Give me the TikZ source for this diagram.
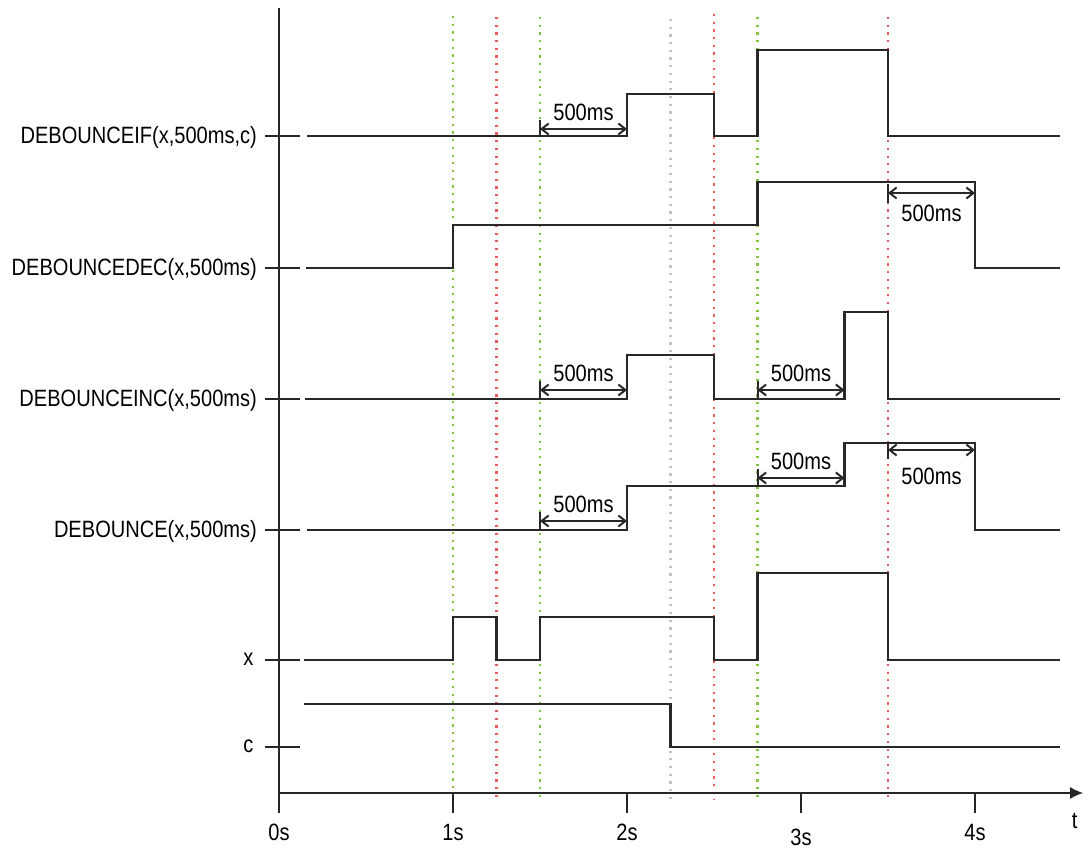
\documentclass[tikz,border=0pt]{standalone}
\usepackage{fontspec}
\setmainfont{Liberation Sans}[FakeStretch=0.85]
\usetikzlibrary{arrows.meta}
\definecolor{dotgreen}{RGB}{130,195,70}
\definecolor{dotred}{RGB}{235,90,90}
\definecolor{dotgray}{RGB}{195,195,195}
\definecolor{sigcol}{RGB}{40,40,40}
\begin{document}
\begin{tikzpicture}[x=174pt,y=-1pt,
  sig/.style={draw=sigcol,line width=2.1pt,line join=miter},
  axisline/.style={draw=black!85,line width=2pt},
  dotline/.style={line width=2.6pt,dash pattern=on 2.2pt off 5.5pt},
  dimarrow/.style={draw=sigcol,line width=2pt,{Straight Barb[length=7pt,width=11pt,line width=2pt]}-{Straight Barb[length=7pt,width=11pt,line width=2pt]}},
  dimbar/.style={draw=sigcol,line width=2pt},
  lbl/.style={font=\fontsize{23.6}{28}\selectfont,inner sep=0pt,text=black}]
\useasboundingbox (-1.603448,0) rectangle (4.632184,848);
% dotted reference lines
\draw[dotline,dotgreen] (1,16) -- (1,800);
\draw[dotline,dotred]   (1.25,17) -- (1.25,800);
\draw[dotline,dotgreen] (1.5,17) -- (1.5,800);
\draw[dotline,dotgray]  (2.25,19) -- (2.25,800);
\draw[dotline,dotred]   (2.5,14) -- (2.5,800);
\draw[dotline,dotgreen] (2.75,17) -- (2.75,800);
\draw[dotline,dotred]   (3.5,17) -- (3.5,800);
% axes
\draw[axisline] (0,8) -- (0,813);
\draw[axisline,-{Latex[length=13pt,width=12pt]}] (0,793) -- (4.622,793);
\foreach \t in {1,2,3,4} \draw[axisline] (\t,793) -- (\t,813);
\node[lbl] (l0) at (0,832) {0s};
\node[lbl] (l1) at (1,832) {1s};
\node[lbl] (l2) at (2,832) {2s};
\node[lbl] (l3) at (3,837) {3s};
\node[lbl] (l4) at (4,832) {4s};
\node[lbl] (lt) at (4.573,821) {t};
% y ticks
\foreach \y in {136,268,399,530,660,747} \draw[axisline] (-0.08,\y) -- (0.121,\y);
% signal names
\node[lbl,anchor=east] (nIF)  at (-0.126,137) {DEBOUNCEIF(x,500ms,c)};
\node[lbl,anchor=east] (nDEC) at (-0.126,269) {DEBOUNCEDEC(x,500ms)};
\node[lbl,anchor=east] (nINC) at (-0.126,400) {DEBOUNCEINC(x,500ms)};
\node[lbl,anchor=east] (nDEB) at (-0.126,531) {DEBOUNCE(x,500ms)};
\node[lbl,anchor=east] (nX)   at (-0.146,659) {x};
\node[lbl,anchor=east] (nC)   at (-0.146,746) {c};
% signals
\draw[sig] (0.16,136) -- (2,136) -- (2,94) -- (2.5,94) -- (2.5,136) -- (2.75,136) -- (2.75,50) -- (3.5,50) -- (3.5,136) -- (4.49,136);
\draw[sig] (0.155,268) -- (1,268) -- (1,225) -- (2.75,225) -- (2.75,182) -- (4,182) -- (4,268) -- (4.49,268);
\draw[sig] (0.15,399) -- (2,399) -- (2,355) -- (2.5,355) -- (2.5,399) -- (3.25,399) -- (3.25,312) -- (3.5,312) -- (3.5,399) -- (4.49,399);
\draw[sig] (0.16,530) -- (2,530) -- (2,486) -- (3.25,486) -- (3.25,443) -- (4,443) -- (4,530) -- (4.49,530);
\draw[sig] (0.142,660) -- (1,660) -- (1,617) -- (1.25,617) -- (1.25,660) -- (1.5,660) -- (1.5,617) -- (2.5,617) -- (2.5,660) -- (2.75,660) -- (2.75,573) -- (3.5,573) -- (3.5,660) -- (4.49,660);
\draw[sig] (0.142,704) -- (2.25,704) -- (2.25,747) -- (4.49,747);
% 500ms annotations
% DEBOUNCEIF
\draw[dimbar] (1.5,120) -- (1.5,137);
\draw[dimarrow] (1.5,129) -- (2,129);
\node[lbl] (mIF) at (1.75,112) {500ms};
% DEBOUNCEDEC
\draw[dimbar] (3.5,184) -- (3.5,203);
\draw[dimarrow] (3.5,193) -- (4,193);
\node[lbl] (mDEC) at (3.75,213) {500ms};
% DEBOUNCEINC
\draw[dimbar] (1.5,381) -- (1.5,399);
\draw[dimarrow] (1.5,390) -- (2,390);
\node[lbl] (mINC1) at (1.75,373) {500ms};
\draw[dimbar] (2.75,381) -- (2.75,399);
\draw[dimarrow] (2.75,390) -- (3.25,390);
\node[lbl] (mINC2) at (3,373) {500ms};
% DEBOUNCE
\draw[dimbar] (1.5,512) -- (1.5,530);
\draw[dimarrow] (1.5,521) -- (2,521);
\node[lbl] (mD1) at (1.75,504) {500ms};
\draw[dimbar] (2.75,469) -- (2.75,487);
\draw[dimarrow] (2.75,478) -- (3.25,478);
\node[lbl] (mD2) at (3,461) {500ms};
\draw[dimbar] (3.5,443) -- (3.5,459);
\draw[dimarrow] (3.5,450) -- (4,450);
\node[lbl] (mD3) at (3.75,476) {500ms};
\end{tikzpicture}
\end{document}
